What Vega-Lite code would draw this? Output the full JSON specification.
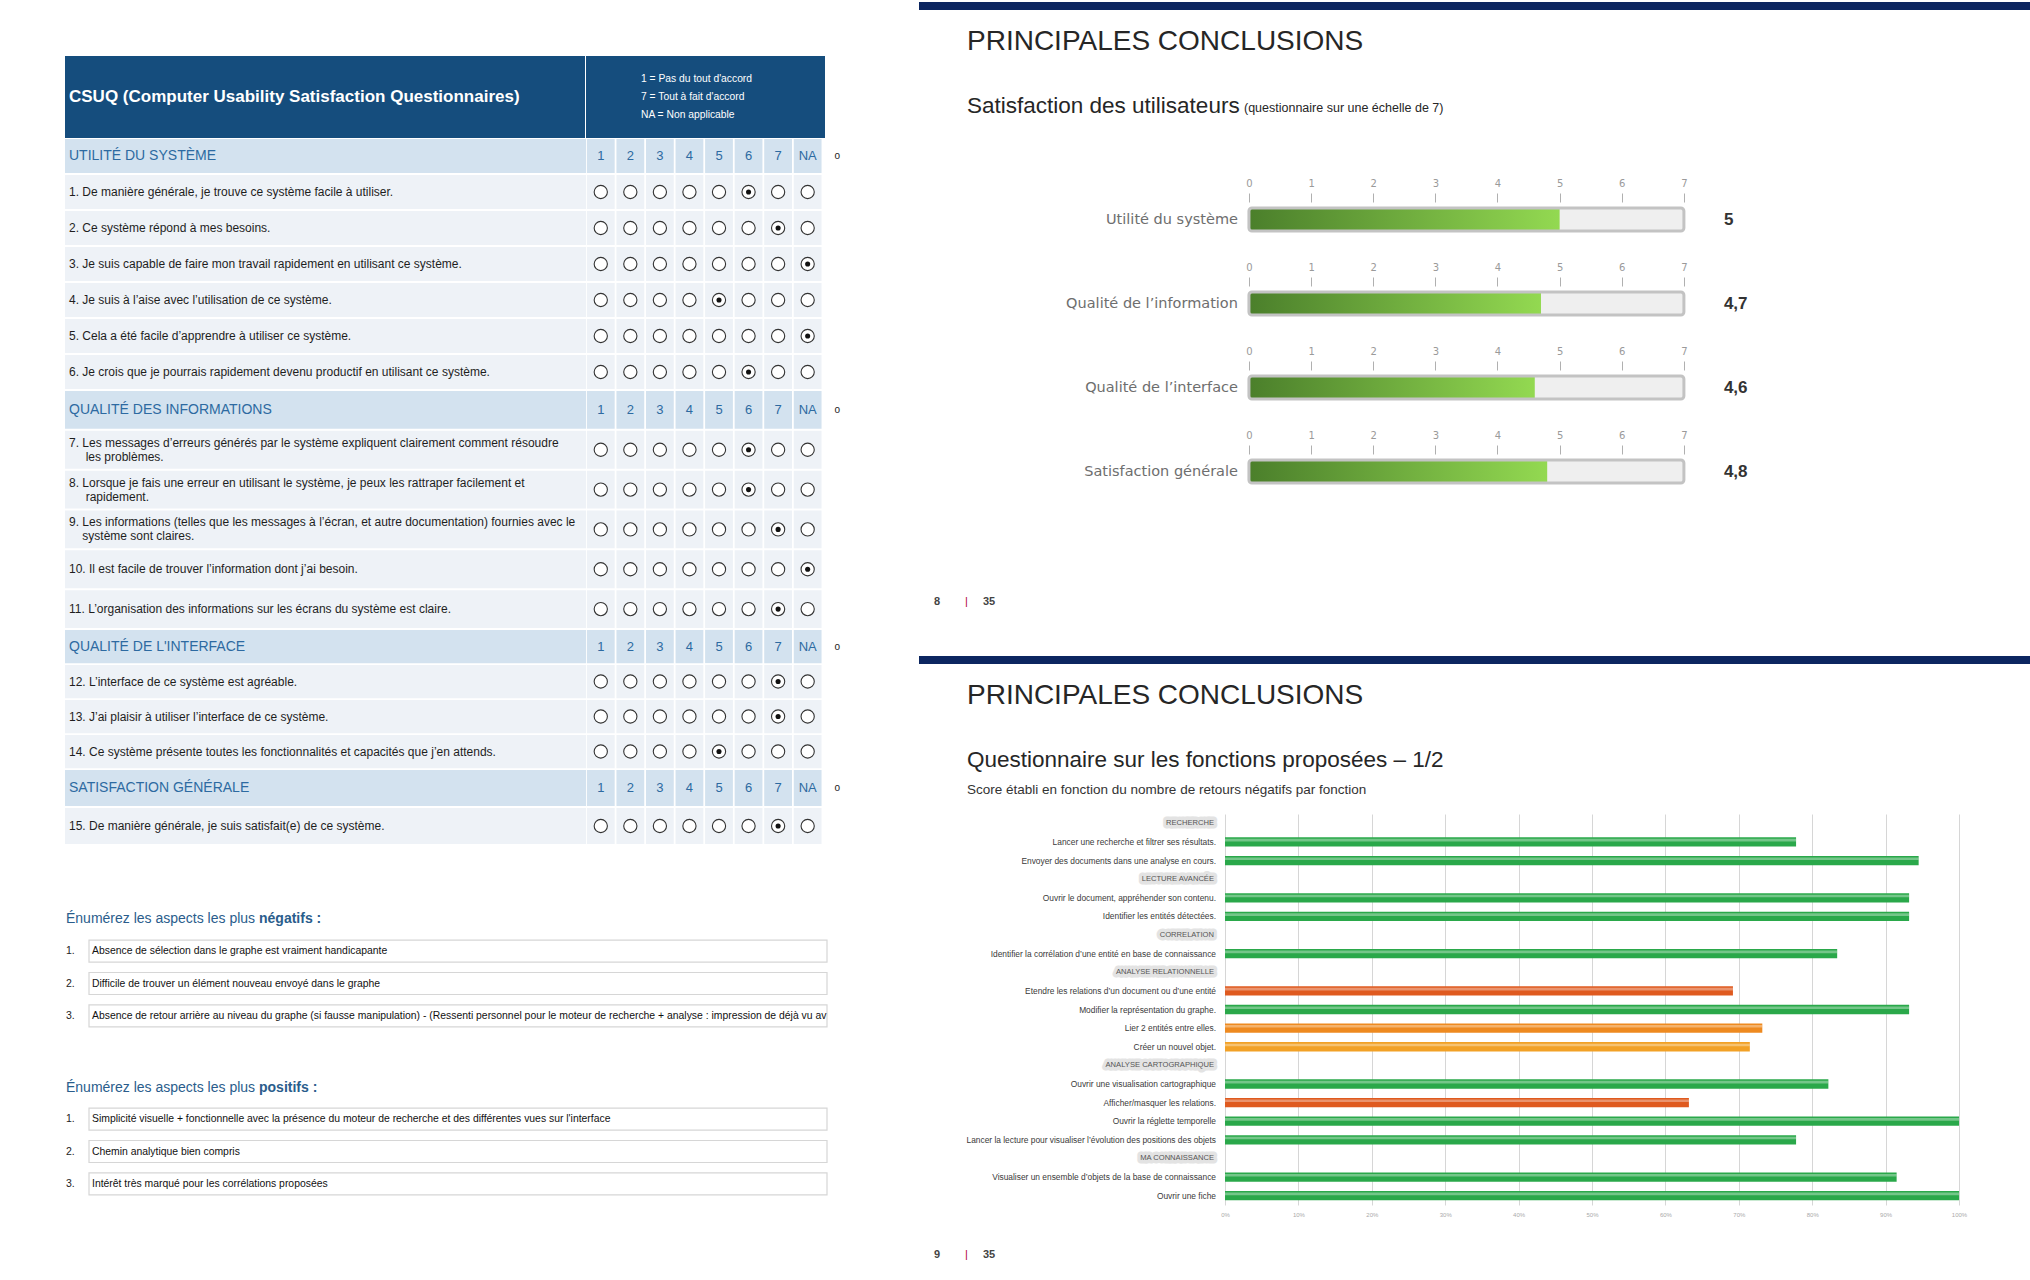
{
"$schema":"https://vega.github.io/schema/vega-lite/v6.json",
"background":"white",
"padding":{"left":65,"top":0,"right":0,"bottom":0},
"spacing":67,
"config":{"view":{"stroke":null},"font":"Liberation Sans",
 "locale":{"number":{"decimal":",","thousands":"\u00a0","grouping":[3],"currency":["","\u00a0€"],"percent":"%"}},
 "axisTop":{"grid":false,"domain":false,"ticks":true,"tickSize":9,"tickColor":"#b0b0b0","tickWidth":1,"labelColor":"#9a9a9a","labelFont":"DejaVu Sans","labelFontSize":10,"labelPadding":5,"offset":6},
 "axisBottom":{"grid":true,"gridColor":"#d6d6d6","gridWidth":1,"ticks":false,"domain":false,"labelFontSize":6,"labelColor":"#aaaaaa","labelPadding":6}
},
"datasets":{
 "lignes":[
  {"ligne":"s1","type":"section","texte":"UTILITÉ DU SYSTÈME"},
  {"ligne":"q1","type":"question","texte":"1.  De manière générale, je trouve ce système facile à utiliser."},
  {"ligne":"q2","type":"question","texte":"2.  Ce système répond à mes besoins."},
  {"ligne":"q3","type":"question","texte":"3. Je suis capable de faire mon travail rapidement en utilisant ce système."},
  {"ligne":"q4","type":"question","texte":"4. Je suis à l’aise avec l’utilisation de ce système."},
  {"ligne":"q5","type":"question","texte":"5. Cela a été facile d’apprendre à utiliser ce système."},
  {"ligne":"q6","type":"question","texte":"6. Je crois que je pourrais rapidement devenu productif en utilisant ce système."},
  {"ligne":"s2","type":"section","texte":"QUALITÉ DES INFORMATIONS"},
  {"ligne":"q7","type":"question","texte":["7.  Les messages d’erreurs générés par le système expliquent clairement comment résoudre","\u200b\u00a0\u00a0\u00a0\u00a0\u00a0les problèmes."]},
  {"ligne":"q8","type":"question","texte":["8.  Lorsque je fais une erreur en utilisant le système, je peux les rattraper facilement et","\u200b\u00a0\u00a0\u00a0\u00a0\u00a0rapidement."]},
  {"ligne":"q9","type":"question","texte":["9. Les informations (telles que les messages à l’écran, et autre documentation) fournies avec le","\u200b\u00a0\u00a0\u00a0\u00a0système sont claires."]},
  {"ligne":"q10","type":"question","texte":"10.  Il est facile de trouver l’information dont j’ai besoin."},
  {"ligne":"q11","type":"question","texte":"11. L’organisation des informations sur les écrans du système est claire."},
  {"ligne":"s3","type":"section","texte":"QUALITÉ DE L'INTERFACE"},
  {"ligne":"q12","type":"question","texte":"12. L’interface de ce système est agréable."},
  {"ligne":"q13","type":"question","texte":"13. J’ai plaisir à utiliser l’interface de ce système."},
  {"ligne":"q14","type":"question","texte":"14. Ce système présente toutes les fonctionnalités et capacités que j’en attends."},
  {"ligne":"s4","type":"section","texte":"SATISFACTION GÉNÉRALE"},
  {"ligne":"q15","type":"question","texte":"15. De manière générale, je suis satisfait(e) de ce système."}
 ],
 "entetes":[
  {"ligne":"s1","option":"1"},{"ligne":"s1","option":"2"},{"ligne":"s1","option":"3"},{"ligne":"s1","option":"4"},{"ligne":"s1","option":"5"},{"ligne":"s1","option":"6"},{"ligne":"s1","option":"7"},{"ligne":"s1","option":"NA"},
  {"ligne":"s2","option":"1"},{"ligne":"s2","option":"2"},{"ligne":"s2","option":"3"},{"ligne":"s2","option":"4"},{"ligne":"s2","option":"5"},{"ligne":"s2","option":"6"},{"ligne":"s2","option":"7"},{"ligne":"s2","option":"NA"},
  {"ligne":"s3","option":"1"},{"ligne":"s3","option":"2"},{"ligne":"s3","option":"3"},{"ligne":"s3","option":"4"},{"ligne":"s3","option":"5"},{"ligne":"s3","option":"6"},{"ligne":"s3","option":"7"},{"ligne":"s3","option":"NA"},
  {"ligne":"s4","option":"1"},{"ligne":"s4","option":"2"},{"ligne":"s4","option":"3"},{"ligne":"s4","option":"4"},{"ligne":"s4","option":"5"},{"ligne":"s4","option":"6"},{"ligne":"s4","option":"7"},{"ligne":"s4","option":"NA"}
 ],
 "marges":[
  {"ligne":"s1","option":"o","texte":"o"},{"ligne":"s2","option":"o","texte":"o"},{"ligne":"s3","option":"o","texte":"o"},{"ligne":"s4","option":"o","texte":"o"}
 ],
 "cases":[
  {"ligne":"q1","option":"1","coche":false},{"ligne":"q1","option":"2","coche":false},{"ligne":"q1","option":"3","coche":false},{"ligne":"q1","option":"4","coche":false},{"ligne":"q1","option":"5","coche":false},{"ligne":"q1","option":"6","coche":true},{"ligne":"q1","option":"7","coche":false},{"ligne":"q1","option":"NA","coche":false},
  {"ligne":"q2","option":"1","coche":false},{"ligne":"q2","option":"2","coche":false},{"ligne":"q2","option":"3","coche":false},{"ligne":"q2","option":"4","coche":false},{"ligne":"q2","option":"5","coche":false},{"ligne":"q2","option":"6","coche":false},{"ligne":"q2","option":"7","coche":true},{"ligne":"q2","option":"NA","coche":false},
  {"ligne":"q3","option":"1","coche":false},{"ligne":"q3","option":"2","coche":false},{"ligne":"q3","option":"3","coche":false},{"ligne":"q3","option":"4","coche":false},{"ligne":"q3","option":"5","coche":false},{"ligne":"q3","option":"6","coche":false},{"ligne":"q3","option":"7","coche":false},{"ligne":"q3","option":"NA","coche":true},
  {"ligne":"q4","option":"1","coche":false},{"ligne":"q4","option":"2","coche":false},{"ligne":"q4","option":"3","coche":false},{"ligne":"q4","option":"4","coche":false},{"ligne":"q4","option":"5","coche":true},{"ligne":"q4","option":"6","coche":false},{"ligne":"q4","option":"7","coche":false},{"ligne":"q4","option":"NA","coche":false},
  {"ligne":"q5","option":"1","coche":false},{"ligne":"q5","option":"2","coche":false},{"ligne":"q5","option":"3","coche":false},{"ligne":"q5","option":"4","coche":false},{"ligne":"q5","option":"5","coche":false},{"ligne":"q5","option":"6","coche":false},{"ligne":"q5","option":"7","coche":false},{"ligne":"q5","option":"NA","coche":true},
  {"ligne":"q6","option":"1","coche":false},{"ligne":"q6","option":"2","coche":false},{"ligne":"q6","option":"3","coche":false},{"ligne":"q6","option":"4","coche":false},{"ligne":"q6","option":"5","coche":false},{"ligne":"q6","option":"6","coche":true},{"ligne":"q6","option":"7","coche":false},{"ligne":"q6","option":"NA","coche":false},
  {"ligne":"q7","option":"1","coche":false},{"ligne":"q7","option":"2","coche":false},{"ligne":"q7","option":"3","coche":false},{"ligne":"q7","option":"4","coche":false},{"ligne":"q7","option":"5","coche":false},{"ligne":"q7","option":"6","coche":true},{"ligne":"q7","option":"7","coche":false},{"ligne":"q7","option":"NA","coche":false},
  {"ligne":"q8","option":"1","coche":false},{"ligne":"q8","option":"2","coche":false},{"ligne":"q8","option":"3","coche":false},{"ligne":"q8","option":"4","coche":false},{"ligne":"q8","option":"5","coche":false},{"ligne":"q8","option":"6","coche":true},{"ligne":"q8","option":"7","coche":false},{"ligne":"q8","option":"NA","coche":false},
  {"ligne":"q9","option":"1","coche":false},{"ligne":"q9","option":"2","coche":false},{"ligne":"q9","option":"3","coche":false},{"ligne":"q9","option":"4","coche":false},{"ligne":"q9","option":"5","coche":false},{"ligne":"q9","option":"6","coche":false},{"ligne":"q9","option":"7","coche":true},{"ligne":"q9","option":"NA","coche":false},
  {"ligne":"q10","option":"1","coche":false},{"ligne":"q10","option":"2","coche":false},{"ligne":"q10","option":"3","coche":false},{"ligne":"q10","option":"4","coche":false},{"ligne":"q10","option":"5","coche":false},{"ligne":"q10","option":"6","coche":false},{"ligne":"q10","option":"7","coche":false},{"ligne":"q10","option":"NA","coche":true},
  {"ligne":"q11","option":"1","coche":false},{"ligne":"q11","option":"2","coche":false},{"ligne":"q11","option":"3","coche":false},{"ligne":"q11","option":"4","coche":false},{"ligne":"q11","option":"5","coche":false},{"ligne":"q11","option":"6","coche":false},{"ligne":"q11","option":"7","coche":true},{"ligne":"q11","option":"NA","coche":false},
  {"ligne":"q12","option":"1","coche":false},{"ligne":"q12","option":"2","coche":false},{"ligne":"q12","option":"3","coche":false},{"ligne":"q12","option":"4","coche":false},{"ligne":"q12","option":"5","coche":false},{"ligne":"q12","option":"6","coche":false},{"ligne":"q12","option":"7","coche":true},{"ligne":"q12","option":"NA","coche":false},
  {"ligne":"q13","option":"1","coche":false},{"ligne":"q13","option":"2","coche":false},{"ligne":"q13","option":"3","coche":false},{"ligne":"q13","option":"4","coche":false},{"ligne":"q13","option":"5","coche":false},{"ligne":"q13","option":"6","coche":false},{"ligne":"q13","option":"7","coche":true},{"ligne":"q13","option":"NA","coche":false},
  {"ligne":"q14","option":"1","coche":false},{"ligne":"q14","option":"2","coche":false},{"ligne":"q14","option":"3","coche":false},{"ligne":"q14","option":"4","coche":false},{"ligne":"q14","option":"5","coche":true},{"ligne":"q14","option":"6","coche":false},{"ligne":"q14","option":"7","coche":false},{"ligne":"q14","option":"NA","coche":false},
  {"ligne":"q15","option":"1","coche":false},{"ligne":"q15","option":"2","coche":false},{"ligne":"q15","option":"3","coche":false},{"ligne":"q15","option":"4","coche":false},{"ligne":"q15","option":"5","coche":false},{"ligne":"q15","option":"6","coche":false},{"ligne":"q15","option":"7","coche":true},{"ligne":"q15","option":"NA","coche":false}
 ],
 "negatifs":[
  {"rang":"0","texte":"Énumérez les aspects les plus","accent":"négatifs :"},
  {"rang":"1","numero":"1.","texte":"Absence de sélection dans le graphe est vraiment handicapante"},
  {"rang":"2","numero":"2.","texte":"Difficile de trouver un élément nouveau envoyé dans le graphe"},
  {"rang":"3","numero":"3.","texte":"Absence de retour arrière au niveau du graphe (si fausse manipulation) - (Ressenti personnel pour le moteur de recherche + analyse : impression de déjà vu av"}
 ],
 "positifs":[
  {"rang":"0","texte":"Énumérez les aspects les plus","accent":"positifs :"},
  {"rang":"1","numero":"1.","texte":"Simplicité visuelle + fonctionnelle avec la présence du moteur de recherche et des différentes vues sur l'interface"},
  {"rang":"2","numero":"2.","texte":"Chemin analytique bien compris"},
  {"rang":"3","numero":"3.","texte":"Intérêt très marqué pour les corrélations proposées"}
 ],
 "dimensions":[
  {"dimension":"Utilité du système","score":5},
  {"dimension":"Qualité de l’information","score":4.7},
  {"dimension":"Qualité de l’interface","score":4.6},
  {"dimension":"Satisfaction générale","score":4.8}
 ],
 "fonctions":[
  {"fonction":"RECHERCHE","type":"rubrique"},
  {"fonction":"Lancer une recherche et filtrer ses résultats.","type":"fonction","score":0.778,"statut":"satisfaisant"},
  {"fonction":"Envoyer des documents dans une analyse en cours.","type":"fonction","score":0.945,"statut":"satisfaisant"},
  {"fonction":"LECTURE AVANCÉE","type":"rubrique"},
  {"fonction":"Ouvrir le document, appréhender son contenu.","type":"fonction","score":0.932,"statut":"satisfaisant"},
  {"fonction":"Identifier les entités détectées.","type":"fonction","score":0.932,"statut":"satisfaisant"},
  {"fonction":"CORRELATION","type":"rubrique"},
  {"fonction":"Identifier la corrélation d’une entité en base de connaissance","type":"fonction","score":0.834,"statut":"satisfaisant"},
  {"fonction":"ANALYSE RELATIONNELLE","type":"rubrique"},
  {"fonction":"Etendre les relations d’un document ou d’une entité","type":"fonction","score":0.692,"statut":"critique"},
  {"fonction":"Modifier la représentation du graphe.","type":"fonction","score":0.932,"statut":"satisfaisant"},
  {"fonction":"Lier 2 entités entre elles.","type":"fonction","score":0.732,"statut":"à améliorer"},
  {"fonction":"Créer un nouvel objet.","type":"fonction","score":0.715,"statut":"à surveiller"},
  {"fonction":"ANALYSE CARTOGRAPHIQUE","type":"rubrique"},
  {"fonction":"Ouvrir une visualisation cartographique","type":"fonction","score":0.822,"statut":"satisfaisant"},
  {"fonction":"Afficher/masquer les relations.","type":"fonction","score":0.632,"statut":"critique"},
  {"fonction":"Ouvrir la réglette temporelle","type":"fonction","score":1.0,"statut":"satisfaisant"},
  {"fonction":"Lancer la lecture pour visualiser l’évolution des positions des objets","type":"fonction","score":0.778,"statut":"satisfaisant"},
  {"fonction":"MA CONNAISSANCE","type":"rubrique"},
  {"fonction":"Visualiser un ensemble d’objets de la base de connaissance","type":"fonction","score":0.915,"statut":"satisfaisant"},
  {"fonction":"Ouvrir une fiche","type":"fonction","score":1.0,"statut":"satisfaisant"}
 ]
},
"hconcat":[
 {"spacing":0,"vconcat":[
  {"width":787,"height":54,"data":{"values":[{}]},"mark":"text","encoding":{"text":{"value":""}}},
  {"spacing":1,"hconcat":[
   {"width":520,"height":82,"view":{"fill":"#154d7d","stroke":null},
    "data":{"values":[{"titre":"CSUQ (Computer Usability Satisfaction Questionnaires)"}]},
    "mark":{"type":"text","align":"left","baseline":"middle","dx":4,"fontSize":17,"fontWeight":"bold","color":"#ffffff"},
    "encoding":{"x":{"datum":0,"type":"quantitative","scale":{"domain":[0,1]},"axis":null},"text":{"field":"titre"}}},
   {"width":239,"height":82,"view":{"fill":"#154d7d","stroke":null},
    "data":{"values":[{"legende":["1 = Pas du tout d'accord","7 = Tout à fait d'accord","NA = Non applicable"]}]},
    "mark":{"type":"text","align":"left","baseline":"middle","dx":55,"dy":-18,"fontSize":10.3,"lineHeight":18,"color":"#ffffff"},
    "encoding":{"x":{"datum":0,"type":"quantitative","scale":{"domain":[0,1]},"axis":null},"text":{"field":"legende"}}}
  ]},
  {"spacing":0,"hconcat":[
   {"width":521,"height":252,"data":{"name":"lignes"},"transform":[{"filter":{"field":"ligne","oneOf":["s1","q1","q2","q3","q4","q5","q6"]}}],
    "encoding":{"y":{"field":"ligne","type":"nominal","scale":{"domain":["s1","q1","q2","q3","q4","q5","q6"],"paddingInner":0.05,"paddingOuter":0.025},"axis":null},
                "x":{"datum":0,"type":"quantitative","scale":{"domain":[0,1]},"axis":null}},
    "layer":[
     {"mark":{"type":"rect"},"encoding":{"x2":{"datum":1},"fill":{"field":"type","type":"nominal","scale":{"domain":["section","question"],"range":["#d3e2ef","#eef2f7"]},"legend":null}}},
     {"transform":[{"filter":"datum.type === 'section'"}],"mark":{"type":"text","align":"left","baseline":"middle","dx":4,"fontSize":14,"color":"#2d6aa1","clip":true},"encoding":{"text":{"field":"texte"}}},
     {"transform":[{"filter":"datum.type === 'question'"}],"mark":{"type":"text","align":"left","baseline":"middle","dx":4,"fontSize":12,"color":"#1e1e1e","clip":true},"encoding":{"text":{"field":"texte"}}}
    ]},
   {"width":266,"height":252,
    "encoding":{"y":{"field":"ligne","type":"nominal","scale":{"domain":["s1","q1","q2","q3","q4","q5","q6"],"paddingInner":0.05,"paddingOuter":0.025},"axis":null},
                "x":{"field":"option","type":"nominal","scale":{"domain":["1","2","3","4","5","6","7","NA","o"],"paddingInner":0.06,"paddingOuter":0.03},"axis":null}},
    "layer":[
     {"data":{"name":"entetes"},"transform":[{"filter":{"field":"ligne","oneOf":["s1"]}}],"mark":{"type":"rect","fill":"#d3e2ef"}},
     {"data":{"name":"cases"},"transform":[{"filter":{"field":"ligne","oneOf":["q1","q2","q3","q4","q5","q6"]}}],"mark":{"type":"rect","fill":"#eef2f7"}},
     {"data":{"name":"cases"},"transform":[{"filter":{"field":"ligne","oneOf":["q1","q2","q3","q4","q5","q6"]}}],"mark":{"type":"point","shape":"circle","size":175,"filled":true,"fill":"#ffffff","stroke":"#333333","strokeWidth":1.1,"opacity":1}},
     {"data":{"name":"cases"},"transform":[{"filter":{"field":"ligne","oneOf":["q1","q2","q3","q4","q5","q6"]}},{"filter":"datum.coche"}],"mark":{"type":"point","shape":"circle","size":26,"filled":true,"color":"#111111","opacity":1}},
     {"data":{"name":"entetes"},"transform":[{"filter":{"field":"ligne","oneOf":["s1"]}}],"mark":{"type":"text","fontSize":13,"color":"#2d6aa1","baseline":"middle"},"encoding":{"text":{"field":"option"}}},
     {"data":{"name":"marges"},"transform":[{"filter":{"field":"ligne","oneOf":["s1"]}}],"mark":{"type":"text","fontSize":10,"color":"#222222","baseline":"middle"},"encoding":{"text":{"field":"texte"}}}
    ]}
  ]},
  {"spacing":0,"hconcat":[
   {"width":521,"height":239,"data":{"name":"lignes"},"transform":[{"filter":{"field":"ligne","oneOf":["s2","q7","q8","q9","q10","q11"]}}],
    "encoding":{"y":{"field":"ligne","type":"nominal","scale":{"domain":["s2","q7","q8","q9","q10","q11"],"paddingInner":0.05,"paddingOuter":0.025},"axis":null},
                "x":{"datum":0,"type":"quantitative","scale":{"domain":[0,1]},"axis":null}},
    "layer":[
     {"mark":{"type":"rect"},"encoding":{"x2":{"datum":1},"fill":{"field":"type","type":"nominal","scale":{"domain":["section","question"],"range":["#d3e2ef","#eef2f7"]},"legend":null}}},
     {"transform":[{"filter":"datum.type === 'section'"}],"mark":{"type":"text","align":"left","baseline":"middle","dx":4,"fontSize":14,"color":"#2d6aa1","clip":true},"encoding":{"text":{"field":"texte"}}},
     {"transform":[{"filter":"datum.type === 'question' && !isArray(datum.texte)"}],"mark":{"type":"text","align":"left","baseline":"middle","dx":4,"fontSize":12,"color":"#1e1e1e","clip":true},"encoding":{"text":{"field":"texte"}}},
     {"transform":[{"filter":"datum.type === 'question' && isArray(datum.texte)"}],"mark":{"type":"text","align":"left","baseline":"middle","dx":4,"dy":-7,"fontSize":12,"lineHeight":14,"color":"#1e1e1e","clip":true},"encoding":{"text":{"field":"texte"}}}
    ]},
   {"width":266,"height":239,
    "encoding":{"y":{"field":"ligne","type":"nominal","scale":{"domain":["s2","q7","q8","q9","q10","q11"],"paddingInner":0.05,"paddingOuter":0.025},"axis":null},
                "x":{"field":"option","type":"nominal","scale":{"domain":["1","2","3","4","5","6","7","NA","o"],"paddingInner":0.06,"paddingOuter":0.03},"axis":null}},
    "layer":[
     {"data":{"name":"entetes"},"transform":[{"filter":{"field":"ligne","oneOf":["s2"]}}],"mark":{"type":"rect","fill":"#d3e2ef"}},
     {"data":{"name":"cases"},"transform":[{"filter":{"field":"ligne","oneOf":["q7","q8","q9","q10","q11"]}}],"mark":{"type":"rect","fill":"#eef2f7"}},
     {"data":{"name":"cases"},"transform":[{"filter":{"field":"ligne","oneOf":["q7","q8","q9","q10","q11"]}}],"mark":{"type":"point","shape":"circle","size":175,"filled":true,"fill":"#ffffff","stroke":"#333333","strokeWidth":1.1,"opacity":1}},
     {"data":{"name":"cases"},"transform":[{"filter":{"field":"ligne","oneOf":["q7","q8","q9","q10","q11"]}},{"filter":"datum.coche"}],"mark":{"type":"point","shape":"circle","size":26,"filled":true,"color":"#111111","opacity":1}},
     {"data":{"name":"entetes"},"transform":[{"filter":{"field":"ligne","oneOf":["s2"]}}],"mark":{"type":"text","fontSize":13,"color":"#2d6aa1","baseline":"middle"},"encoding":{"text":{"field":"option"}}},
     {"data":{"name":"marges"},"transform":[{"filter":{"field":"ligne","oneOf":["s2"]}}],"mark":{"type":"text","fontSize":10,"color":"#222222","baseline":"middle"},"encoding":{"text":{"field":"texte"}}}
    ]}
  ]},
  {"spacing":0,"hconcat":[
   {"width":521,"height":140,"data":{"name":"lignes"},"transform":[{"filter":{"field":"ligne","oneOf":["s3","q12","q13","q14"]}}],
    "encoding":{"y":{"field":"ligne","type":"nominal","scale":{"domain":["s3","q12","q13","q14"],"paddingInner":0.05,"paddingOuter":0.025},"axis":null},
                "x":{"datum":0,"type":"quantitative","scale":{"domain":[0,1]},"axis":null}},
    "layer":[
     {"mark":{"type":"rect"},"encoding":{"x2":{"datum":1},"fill":{"field":"type","type":"nominal","scale":{"domain":["section","question"],"range":["#d3e2ef","#eef2f7"]},"legend":null}}},
     {"transform":[{"filter":"datum.type === 'section'"}],"mark":{"type":"text","align":"left","baseline":"middle","dx":4,"fontSize":14,"color":"#2d6aa1","clip":true},"encoding":{"text":{"field":"texte"}}},
     {"transform":[{"filter":"datum.type === 'question'"}],"mark":{"type":"text","align":"left","baseline":"middle","dx":4,"fontSize":12,"color":"#1e1e1e","clip":true},"encoding":{"text":{"field":"texte"}}}
    ]},
   {"width":266,"height":140,
    "encoding":{"y":{"field":"ligne","type":"nominal","scale":{"domain":["s3","q12","q13","q14"],"paddingInner":0.05,"paddingOuter":0.025},"axis":null},
                "x":{"field":"option","type":"nominal","scale":{"domain":["1","2","3","4","5","6","7","NA","o"],"paddingInner":0.06,"paddingOuter":0.03},"axis":null}},
    "layer":[
     {"data":{"name":"entetes"},"transform":[{"filter":{"field":"ligne","oneOf":["s3"]}}],"mark":{"type":"rect","fill":"#d3e2ef"}},
     {"data":{"name":"cases"},"transform":[{"filter":{"field":"ligne","oneOf":["q12","q13","q14"]}}],"mark":{"type":"rect","fill":"#eef2f7"}},
     {"data":{"name":"cases"},"transform":[{"filter":{"field":"ligne","oneOf":["q12","q13","q14"]}}],"mark":{"type":"point","shape":"circle","size":175,"filled":true,"fill":"#ffffff","stroke":"#333333","strokeWidth":1.1,"opacity":1}},
     {"data":{"name":"cases"},"transform":[{"filter":{"field":"ligne","oneOf":["q12","q13","q14"]}},{"filter":"datum.coche"}],"mark":{"type":"point","shape":"circle","size":26,"filled":true,"color":"#111111","opacity":1}},
     {"data":{"name":"entetes"},"transform":[{"filter":{"field":"ligne","oneOf":["s3"]}}],"mark":{"type":"text","fontSize":13,"color":"#2d6aa1","baseline":"middle"},"encoding":{"text":{"field":"option"}}},
     {"data":{"name":"marges"},"transform":[{"filter":{"field":"ligne","oneOf":["s3"]}}],"mark":{"type":"text","fontSize":10,"color":"#222222","baseline":"middle"},"encoding":{"text":{"field":"texte"}}}
    ]}
  ]},
  {"spacing":0,"hconcat":[
   {"width":521,"height":76,"data":{"name":"lignes"},"transform":[{"filter":{"field":"ligne","oneOf":["s4","q15"]}}],
    "encoding":{"y":{"field":"ligne","type":"nominal","scale":{"domain":["s4","q15"],"paddingInner":0.05,"paddingOuter":0.025},"axis":null},
                "x":{"datum":0,"type":"quantitative","scale":{"domain":[0,1]},"axis":null}},
    "layer":[
     {"mark":{"type":"rect"},"encoding":{"x2":{"datum":1},"fill":{"field":"type","type":"nominal","scale":{"domain":["section","question"],"range":["#d3e2ef","#eef2f7"]},"legend":null}}},
     {"transform":[{"filter":"datum.type === 'section'"}],"mark":{"type":"text","align":"left","baseline":"middle","dx":4,"fontSize":14,"color":"#2d6aa1","clip":true},"encoding":{"text":{"field":"texte"}}},
     {"transform":[{"filter":"datum.type === 'question'"}],"mark":{"type":"text","align":"left","baseline":"middle","dx":4,"fontSize":12,"color":"#1e1e1e","clip":true},"encoding":{"text":{"field":"texte"}}}
    ]},
   {"width":266,"height":76,
    "encoding":{"y":{"field":"ligne","type":"nominal","scale":{"domain":["s4","q15"],"paddingInner":0.05,"paddingOuter":0.025},"axis":null},
                "x":{"field":"option","type":"nominal","scale":{"domain":["1","2","3","4","5","6","7","NA","o"],"paddingInner":0.06,"paddingOuter":0.03},"axis":null}},
    "layer":[
     {"data":{"name":"entetes"},"transform":[{"filter":{"field":"ligne","oneOf":["s4"]}}],"mark":{"type":"rect","fill":"#d3e2ef"}},
     {"data":{"name":"cases"},"transform":[{"filter":{"field":"ligne","oneOf":["q15"]}}],"mark":{"type":"rect","fill":"#eef2f7"}},
     {"data":{"name":"cases"},"transform":[{"filter":{"field":"ligne","oneOf":["q15"]}}],"mark":{"type":"point","shape":"circle","size":175,"filled":true,"fill":"#ffffff","stroke":"#333333","strokeWidth":1.1,"opacity":1}},
     {"data":{"name":"cases"},"transform":[{"filter":{"field":"ligne","oneOf":["q15"]}},{"filter":"datum.coche"}],"mark":{"type":"point","shape":"circle","size":26,"filled":true,"color":"#111111","opacity":1}},
     {"data":{"name":"entetes"},"transform":[{"filter":{"field":"ligne","oneOf":["s4"]}}],"mark":{"type":"text","fontSize":13,"color":"#2d6aa1","baseline":"middle"},"encoding":{"text":{"field":"option"}}},
     {"data":{"name":"marges"},"transform":[{"filter":{"field":"ligne","oneOf":["s4"]}}],"mark":{"type":"text","fontSize":10,"color":"#222222","baseline":"middle"},"encoding":{"text":{"field":"texte"}}}
    ]}
  ]},
  {"width":761,"height":90,"data":{"name":"negatifs"},"transform":[{"filter":"datum.rang === '0'"}],
   "encoding":{"x":{"datum":0,"type":"quantitative","scale":{"domain":[0,1]},"axis":null}},
   "layer":[
    {"mark":{"type":"text","align":"left","baseline":"middle","dx":1,"dy":29,"fontSize":14,"color":"#2a5d8c"},"encoding":{"text":{"field":"texte"}}},
    {"mark":{"type":"text","align":"left","baseline":"middle","dx":194,"dy":29,"fontSize":14,"fontWeight":"bold","color":"#2a5d8c"},"encoding":{"text":{"field":"accent"}}}
   ]},
  {"spacing":0,"hconcat":[
   {"width":23,"height":97,"data":{"name":"negatifs"},"transform":[{"filter":"datum.rang !== '0'"}],
    "mark":{"type":"text","align":"left","baseline":"middle","dx":1,"fontSize":10.5,"color":"#222222"},
    "encoding":{"y":{"field":"rang","type":"nominal","scale":{"domain":["1","2","3"],"paddingInner":0,"paddingOuter":0},"axis":null},"x":{"datum":0,"type":"quantitative","scale":{"domain":[0,1]},"axis":null},"text":{"field":"numero"}}},
   {"width":738,"height":97,"data":{"name":"negatifs"},"transform":[{"filter":"datum.rang !== '0'"}],
    "encoding":{"y":{"field":"rang","type":"nominal","scale":{"domain":["1","2","3"],"paddingInner":0,"paddingOuter":0},"axis":null},"x":{"datum":0,"type":"quantitative","scale":{"domain":[0,1]},"axis":null}},
    "layer":[
     {"mark":{"type":"bar","height":{"band":0.68},"fill":"#ffffff","stroke":"#d6d6d6","strokeWidth":1.2},"encoding":{"x2":{"datum":1}}},
     {"mark":{"type":"text","align":"left","baseline":"middle","dx":3,"fontSize":10.4,"color":"#111111","clip":true},"encoding":{"text":{"field":"texte"}}}
    ]}
  ]},
  {"width":761,"height":71,"data":{"name":"positifs"},"transform":[{"filter":"datum.rang === '0'"}],
   "encoding":{"x":{"datum":0,"type":"quantitative","scale":{"domain":[0,1]},"axis":null}},
   "layer":[
    {"mark":{"type":"text","align":"left","baseline":"middle","dx":1,"dy":20.5,"fontSize":14,"color":"#2a5d8c"},"encoding":{"text":{"field":"texte"}}},
    {"mark":{"type":"text","align":"left","baseline":"middle","dx":194,"dy":20.5,"fontSize":14,"fontWeight":"bold","color":"#2a5d8c"},"encoding":{"text":{"field":"accent"}}}
   ]},
  {"spacing":0,"hconcat":[
   {"width":23,"height":97,"data":{"name":"positifs"},"transform":[{"filter":"datum.rang !== '0'"}],
    "mark":{"type":"text","align":"left","baseline":"middle","dx":1,"fontSize":10.5,"color":"#222222"},
    "encoding":{"y":{"field":"rang","type":"nominal","scale":{"domain":["1","2","3"],"paddingInner":0,"paddingOuter":0},"axis":null},"x":{"datum":0,"type":"quantitative","scale":{"domain":[0,1]},"axis":null},"text":{"field":"numero"}}},
   {"width":738,"height":97,"data":{"name":"positifs"},"transform":[{"filter":"datum.rang !== '0'"}],
    "encoding":{"y":{"field":"rang","type":"nominal","scale":{"domain":["1","2","3"],"paddingInner":0,"paddingOuter":0},"axis":null},"x":{"datum":0,"type":"quantitative","scale":{"domain":[0,1]},"axis":null}},
    "layer":[
     {"mark":{"type":"bar","height":{"band":0.68},"fill":"#ffffff","stroke":"#d6d6d6","strokeWidth":1.2},"encoding":{"x2":{"datum":1}}},
     {"mark":{"type":"text","align":"left","baseline":"middle","dx":3,"fontSize":10.4,"color":"#111111","clip":true},"encoding":{"text":{"field":"texte"}}}
    ]}
  ]}
 ]},
 {"spacing":0,"vconcat":[
  {"width":1111,"height":8,"view":{"fill":"#0c2660","stroke":null},"data":{"values":[{}]},"mark":"text","encoding":{"text":{"value":""}}},
  {"width":1111,"height":167,
   "data":{"values":[{"titre":"PRINCIPALES CONCLUSIONS","sousTitre":"Satisfaction des utilisateurs","note":"(questionnaire sur une échelle de 7)"}]},
   "encoding":{"x":{"datum":0,"type":"quantitative","scale":{"domain":[0,1]},"axis":null}},
   "layer":[
    {"mark":{"type":"text","align":"left","baseline":"middle","dx":48,"dy":-52.5,"fontSize":28,"color":"#262626"},"encoding":{"text":{"field":"titre"}}},
    {"mark":{"type":"text","align":"left","baseline":"middle","dx":48,"dy":11,"fontSize":22.5,"color":"#262626"},"encoding":{"text":{"field":"sousTitre"}}},
    {"mark":{"type":"text","align":"left","baseline":"middle","dx":325,"dy":13.5,"fontSize":12.5,"color":"#262626"},"encoding":{"text":{"field":"note"}}}
   ]},
  {"data":{"name":"dimensions"},
   "facet":{"row":{"field":"dimension","type":"nominal","sort":["Utilité du système","Qualité de l’information","Qualité de l’interface","Satisfaction générale"],"header":null}},
   "spacing":61,"bounds":"flush","resolve":{"axis":{"x":"independent"}},
   "spec":{"width":1111,"height":23,
    "layer":[
     {"mark":{"type":"rect","fill":"#efefef"},"encoding":{"x":{"datum":0,"type":"quantitative","scale":{"domain":[-5.31,12.57],"nice":false,"zero":false},"axis":{"orient":"top","values":[0,1,2,3,4,5,6,7],"format":"d","title":null}},"x2":{"datum":7}}},
     {"mark":{"type":"rect","fill":{"gradient":"linear","x1":0,"y1":0,"x2":1,"y2":0,"stops":[{"offset":0,"color":"#4b7f2b"},{"offset":1,"color":"#93d951"}]}},"encoding":{"x":{"field":"score","type":"quantitative","axis":{"orient":"top","values":[0,1,2,3,4,5,6,7],"format":"d","title":null}},"x2":{"datum":0}}},
     {"mark":{"type":"rect","fillOpacity":0,"stroke":"#c3c3c3","strokeWidth":3,"cornerRadius":3},"encoding":{"x":{"datum":0,"type":"quantitative","axis":{"orient":"top","values":[0,1,2,3,4,5,6,7],"format":"d","title":null}},"x2":{"datum":7}}},
     {"mark":{"type":"text","align":"right","baseline":"middle","dx":-11,"font":"DejaVu Sans","fontSize":14.5,"color":"#6e6e6e"},"encoding":{"x":{"datum":0,"type":"quantitative","axis":{"orient":"top","values":[0,1,2,3,4,5,6,7],"format":"d","title":null}},"text":{"field":"dimension"}}},
     {"mark":{"type":"text","align":"left","baseline":"middle","dx":40,"fontSize":17,"fontWeight":"bold","color":"#333333"},"encoding":{"x":{"datum":7,"type":"quantitative","axis":{"orient":"top","values":[0,1,2,3,4,5,6,7],"format":"d","title":null}},"text":{"field":"score","type":"quantitative","format":".1~f"}}}
    ]}},
  {"width":1111,"height":169,"data":{"values":[{"page":"8","total":"35"}]},
   "encoding":{"x":{"datum":0,"type":"quantitative","scale":{"domain":[0,1]},"axis":null}},
   "layer":[
    {"mark":{"type":"text","align":"left","baseline":"middle","dx":15,"dy":32,"fontSize":11,"fontWeight":"bold","color":"#444444"},"encoding":{"text":{"field":"page"}}},
    {"mark":{"type":"text","align":"left","baseline":"middle","dx":46,"dy":32,"fontSize":11,"color":"#b0003a"},"encoding":{"text":{"value":"|"}}},
    {"mark":{"type":"text","align":"left","baseline":"middle","dx":64,"dy":32,"fontSize":11,"fontWeight":"bold","color":"#444444"},"encoding":{"text":{"field":"total"}}}
   ]},
  {"width":1111,"height":8,"view":{"fill":"#0c2660","stroke":null},"data":{"values":[{}]},"mark":"text","encoding":{"text":{"value":""}}},
  {"width":1111,"height":149,
   "data":{"values":[{"titre":"PRINCIPALES CONCLUSIONS","sousTitre":"Questionnaire sur les fonctions proposées – 1/2","note":"Score établi en fonction du nombre de retours négatifs par fonction"}]},
   "encoding":{"x":{"datum":0,"type":"quantitative","scale":{"domain":[0,1]},"axis":null}},
   "layer":[
    {"mark":{"type":"text","align":"left","baseline":"middle","dx":48,"dy":-43.5,"fontSize":28,"color":"#262626"},"encoding":{"text":{"field":"titre"}}},
    {"mark":{"type":"text","align":"left","baseline":"middle","dx":48,"dy":20.5,"fontSize":22.5,"color":"#262626"},"encoding":{"text":{"field":"sousTitre"}}},
    {"mark":{"type":"text","align":"left","baseline":"middle","dx":48,"dy":50.5,"fontSize":13.5,"color":"#333333"},"encoding":{"text":{"field":"note"}}}
   ]},
  {"width":1111,"height":391,"data":{"name":"fonctions"},
   "encoding":{"y":{"field":"fonction","type":"nominal","sort":null,"scale":{"domain":["RECHERCHE","Lancer une recherche et filtrer ses résultats.","Envoyer des documents dans une analyse en cours.","LECTURE AVANCÉE","Ouvrir le document, appréhender son contenu.","Identifier les entités détectées.","CORRELATION","Identifier la corrélation d’une entité en base de connaissance","ANALYSE RELATIONNELLE","Etendre les relations d’un document ou d’une entité","Modifier la représentation du graphe.","Lier 2 entités entre elles.","Créer un nouvel objet.","ANALYSE CARTOGRAPHIQUE","Ouvrir une visualisation cartographique","Afficher/masquer les relations.","Ouvrir la réglette temporelle","Lancer la lecture pour visualiser l’évolution des positions des objets","MA CONNAISSANCE","Visualiser un ensemble d’objets de la base de connaissance","Ouvrir une fiche"],"paddingInner":0,"paddingOuter":0},"axis":null}},
   "layer":[
    {"transform":[{"filter":"datum.type === 'fonction'"}],"mark":{"type":"bar","height":{"band":0.5}},
     "encoding":{"x":{"field":"score","type":"quantitative","scale":{"domain":[-0.4169,1.0967],"nice":false,"zero":false},"axis":{"values":[0,0.1,0.2,0.3,0.4,0.5,0.6,0.7,0.8,0.9,1],"format":".0%","title":null}},"x2":{"datum":0},
      "color":{"field":"statut","type":"nominal","scale":{"domain":["satisfaisant","critique","à améliorer","à surveiller"],"range":["#2aa84a","#df5a1f","#ee8a20","#f2a126"]},"legend":null}}},
    {"transform":[{"filter":"datum.type === 'fonction'"}],"mark":{"type":"bar","height":{"band":0.14},"yOffset":-1.8,"color":"#ffffff","opacity":0.35},
     "encoding":{"x":{"field":"score","type":"quantitative","axis":{"values":[0,0.1,0.2,0.3,0.4,0.5,0.6,0.7,0.8,0.9,1],"format":".0%","title":null}},"x2":{"datum":0}}},
    {"transform":[{"filter":"datum.type === 'rubrique'"}],"mark":{"type":"text","align":"right","baseline":"middle","dx":-11,"fontSize":7.6,"stroke":"#e3e3e3","strokeWidth":7,"strokeJoin":"round","color":"#e3e3e3"},
     "encoding":{"x":{"datum":0,"type":"quantitative","axis":{"values":[0,0.1,0.2,0.3,0.4,0.5,0.6,0.7,0.8,0.9,1],"format":".0%","title":null}},"text":{"field":"fonction"}}},
    {"transform":[{"filter":"datum.type === 'rubrique'"}],"mark":{"type":"text","align":"right","baseline":"middle","dx":-11,"fontSize":7.6,"color":"#555555"},
     "encoding":{"x":{"datum":0,"type":"quantitative","axis":{"values":[0,0.1,0.2,0.3,0.4,0.5,0.6,0.7,0.8,0.9,1],"format":".0%","title":null}},"text":{"field":"fonction"}}},
    {"transform":[{"filter":"datum.type === 'fonction'"}],"mark":{"type":"text","align":"right","baseline":"middle","dx":-9,"fontSize":8.4,"color":"#3a3a3a"},
     "encoding":{"x":{"datum":0,"type":"quantitative","axis":{"values":[0,0.1,0.2,0.3,0.4,0.5,0.6,0.7,0.8,0.9,1],"format":".0%","title":null}},"text":{"field":"fonction"}}}
   ]},
  {"width":1111,"height":63,"data":{"values":[{"page":"9","total":"35"}]},
   "encoding":{"x":{"datum":0,"type":"quantitative","scale":{"domain":[0,1]},"axis":null}},
   "layer":[
    {"mark":{"type":"text","align":"left","baseline":"middle","dx":15,"dy":6,"fontSize":11,"fontWeight":"bold","color":"#444444"},"encoding":{"text":{"field":"page"}}},
    {"mark":{"type":"text","align":"left","baseline":"middle","dx":46,"dy":6,"fontSize":11,"color":"#b0003a"},"encoding":{"text":{"value":"|"}}},
    {"mark":{"type":"text","align":"left","baseline":"middle","dx":64,"dy":6,"fontSize":11,"fontWeight":"bold","color":"#444444"},"encoding":{"text":{"field":"total"}}}
   ]}
 ]}
]
}
